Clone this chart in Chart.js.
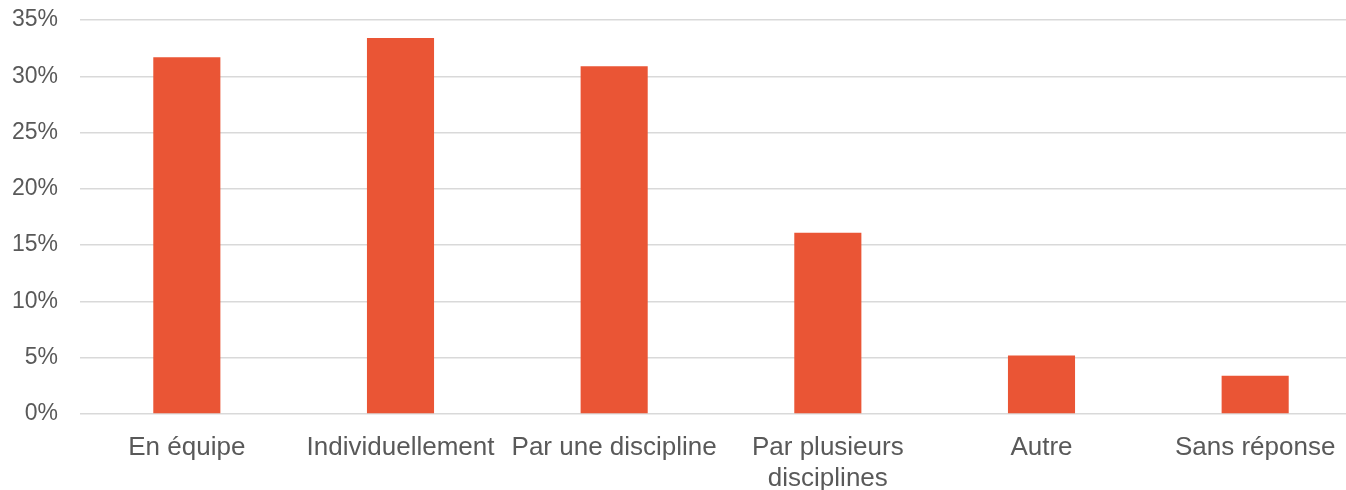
<!DOCTYPE html>
<html lang="fr">
<head>
    <meta charset="UTF-8">
    <title>Répartition</title>
    <script src="https://cdn.jsdelivr.net/npm/chart.js"></script>
    <style>
        body {
            margin: 0;
            background: #fff;
            overflow: hidden;
        }

        .chart-wrap {
            position: relative;
            width: 1362px;
            height: 490px;
        }
    </style>
</head>
<body>
    <div class="chart-wrap">
        <canvas id="chart"></canvas>
    </div>

    <script>
        const categories = ['En équipe', 'Individuellement', 'Par une discipline', ['Par plusieurs', 'disciplines'], 'Autre', 'Sans réponse'];
        const values = [31.7, 33.4, 30.9, 16.1, 5.2, 3.4];
        const yMax = 35;
        const yStep = 5;

        const textColor = '#595959';
        const family = "'Liberation Sans', Arial, sans-serif";

        new Chart(document.getElementById('chart'), {
            type: 'bar',
            data: {
                labels: categories,
                datasets: [{
                    data: values,
                    backgroundColor: '#EA5535',
                    borderWidth: 0,
                    categoryPercentage: 1,
                    barPercentage: 0.314
                }]
            },
            options: {
                responsive: true,
                maintainAspectRatio: false,
                animation: false,
                layout: {
                    padding: { top: 20, left: 12, right: 0, bottom: 0 }
                },
                plugins: {
                    legend: { display: false },
                    tooltip: { enabled: false }
                },
                scales: {
                    x: {
                        grid: { display: false },
                        border: { display: false },
                        afterFit: scale => {
                            scale.height = 76;
                            scale.paddingLeft = 0;
                            scale.paddingRight = 0;
                        },
                        ticks: {
                            color: textColor,
                            font: { family, size: 26 },
                            padding: 10,
                            maxRotation: 0,
                            autoSkip: false
                        }
                    },
                    y: {
                        min: 0,
                        max: yMax,
                        grid: { color: '#D9D9D9', lineWidth: 1.5, drawTicks: false },
                        border: { display: false },
                        afterFit: scale => {
                            scale.width = 68;
                            scale.paddingTop = 0;
                            scale.paddingBottom = 0;
                        },
                        ticks: {
                            stepSize: yStep,
                            color: textColor,
                            font: { family, size: 23 },
                            padding: 22,
                            callback: v => v + '%'
                        }
                    }
                }
            }
        });
    </script>
</body>
</html>
